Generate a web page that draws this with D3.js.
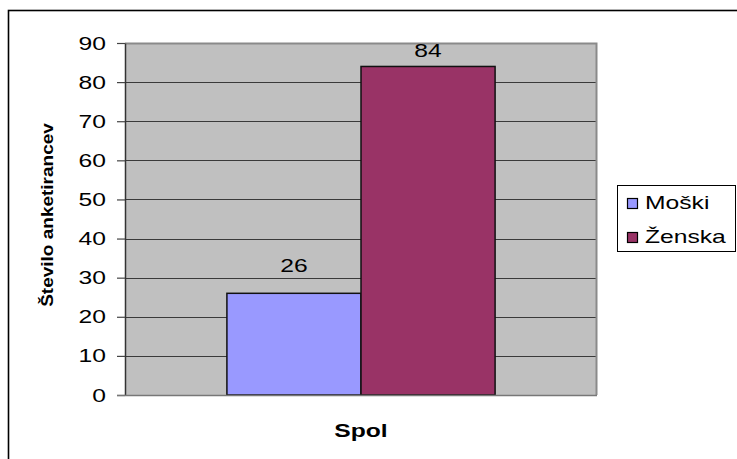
<!DOCTYPE html>
<html>
<head>
<meta charset="utf-8">
<script src="https://cdn.jsdelivr.net/npm/d3@7"></script>
<style>
  html, body { margin: 0; padding: 0; background: #fff; }
  svg { display: block; }
  text { font-family: "Liberation Sans", Arial, sans-serif; fill: #000; }
</style>
</head>
<body>
<svg id="chart" width="737" height="459"></svg>
<script>
// Survey respondents by gender
const categories = ["Moški", "Ženska"];
const values = [26, 84];
const colors = ["#9999FF", "#993366"];
const yTicks = [0, 10, 20, 30, 40, 50, 60, 70, 80, 90];
const yTitle = "Število anketirancev";
const xTitle = "Spol";

const plot = { left: 125, right: 597, top: 43, bottom: 395 };
const SX = 1.37; // horizontal text stretch

const svg = d3.select("#chart");

// outer chart frame
svg.append("rect")
  .attr("x", 8.5).attr("y", 10.5)
  .attr("width", 760).attr("height", 480)
  .attr("fill", "#fff").attr("stroke", "#000").attr("stroke-width", 1.6);

const y = d3.scaleLinear().domain([0, 90]).range([plot.bottom, plot.top]);
const x = d3.scaleBand().domain(["Spol"]).range([plot.left, plot.right]).paddingInner(0).paddingOuter(0);
const xs = d3.scaleBand().domain(categories).range([0, x.bandwidth()]).paddingInner(0).paddingOuter(0.76);

// plot background
svg.append("rect")
  .attr("x", plot.left).attr("y", plot.top)
  .attr("width", plot.right - plot.left).attr("height", plot.bottom - plot.top)
  .attr("fill", "#C0C0C0");

// gridlines
svg.append("g")
  .selectAll("line")
  .data(yTicks.filter(t => t > 0 && t < 90))
  .join("line")
  .attr("x1", plot.left).attr("x2", plot.right)
  .attr("y1", d => Math.round(y(d)) + 0.5).attr("y2", d => Math.round(y(d)) + 0.5)
  .attr("stroke", "#3a3a3a").attr("stroke-width", 1.2);

// plot border (top and right)
svg.append("path")
  .attr("d", `M${plot.left},${plot.top + 0.5}H${plot.right - 0.5}V${plot.bottom}`)
  .attr("fill", "none").attr("stroke", "#8a8a8a").attr("stroke-width", 2);

// bars
const bars = categories.map((c, i) => ({ c, v: values[i], color: colors[i] }));
svg.append("g")
  .selectAll("rect")
  .data(bars)
  .join("rect")
  .attr("x", d => x("Spol") + xs(d.c))
  .attr("y", d => y(d.v))
  .attr("width", xs.bandwidth())
  .attr("height", d => y(0) - y(d.v))
  .attr("fill", d => d.color)
  .attr("stroke", "#111").attr("stroke-width", 1.5);

// value labels
svg.append("g")
  .selectAll("text")
  .data(bars)
  .join("text")
  .attr("transform", d => {
    const cx = x("Spol") + xs(d.c) + xs.bandwidth() / 2;
    const cy = Math.max(y(d.v) - 21.5, plot.top + 13.5);
    return `translate(${cx},${cy}) scale(${SX},1)`;
  })
  .attr("text-anchor", "middle")
  .attr("font-size", 18)
  .text(d => d.v);

// y axis
const yAxis = d3.axisLeft(y).tickValues(yTicks).tickSize(8).tickSizeOuter(0).tickPadding(11);
const gy = svg.append("g").attr("transform", `translate(${plot.left},0)`).call(yAxis);
gy.select(".domain").attr("stroke", "#333").attr("stroke-width", 1.5);
gy.selectAll(".tick line").attr("stroke", "#444").attr("stroke-width", 1.2);
gy.selectAll(".tick text")
  .attr("font-size", 18)
  .attr("font-family", "Liberation Sans, Arial, sans-serif")
  .attr("fill", "#000")
  .attr("x", null).attr("dy", null)
  .attr("transform", `translate(-19,6) scale(${SX},1)`);

// bottom axis line
svg.append("line")
  .attr("x1", plot.left - 8).attr("x2", plot.right)
  .attr("y1", plot.bottom + 0.5).attr("y2", plot.bottom + 0.5)
  .attr("stroke", "#777").attr("stroke-width", 1.5);

// axis titles
svg.append("text")
  .attr("transform", "translate(52.5,215) scale(0.82,1) rotate(-90)")
  .attr("text-anchor", "middle")
  .attr("font-size", 19).attr("font-weight", "bold")
  .text(yTitle);

svg.append("text")
  .attr("transform", `translate(${(plot.left + plot.right) / 2},437) scale(${SX},1)`)
  .attr("text-anchor", "middle")
  .attr("font-size", 18).attr("font-weight", "bold")
  .text(xTitle);

// legend
const lg = svg.append("g");
lg.append("rect")
  .attr("x", 617.5).attr("y", 185.5).attr("width", 118).attr("height", 66)
  .attr("fill", "#fff").attr("stroke", "#000").attr("stroke-width", 1);
const items = lg.selectAll("g.item").data(bars).join("g")
  .attr("class", "item")
  .attr("transform", (d, i) => `translate(627,${198 + i * 34})`);
items.append("rect")
  .attr("x", 0.5).attr("y", 0.5).attr("width", 10).attr("height", 10)
  .attr("fill", d => d.color).attr("stroke", "#000").attr("stroke-width", 1.2);
items.append("text")
  .attr("transform", `translate(18,11) scale(${SX},1)`)
  .attr("font-size", 18)
  .text(d => d.c);
</script>
</body>
</html>
